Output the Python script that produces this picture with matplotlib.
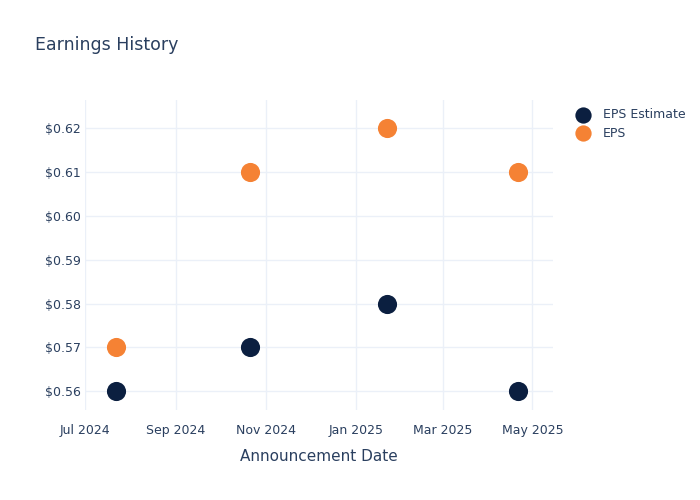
import matplotlib.pyplot as plt
import matplotlib.dates as mdates
import numpy as np
from matplotlib.ticker import FuncFormatter

dates = np.array(["2024-07-22", "2024-10-21", "2025-01-22", "2025-04-21"], dtype="datetime64[D]")
eps_estimate = [0.56, 0.57, 0.58, 0.56]
eps_actual = [0.57, 0.61, 0.62, 0.61]

text_col = "#2a3f5f"
grid_col = "#ebf0f8"

fig = plt.figure(figsize=(7, 5), dpi=100)
ax = fig.add_axes([0.121, 0.18, 0.669, 0.62])

ax.scatter(dates, eps_estimate, s=190, color="#0b1f40", label="EPS Estimate", zorder=3, linewidths=0)
ax.scatter(dates, eps_actual, s=190, color="#f58234", label="EPS", zorder=3, linewidths=0)

ax.set_xlim(np.datetime64("2024-07-01"), np.datetime64("2025-05-15"))
ax.set_ylim(0.5557, 0.6265)
ax.set_yticks([0.56, 0.57, 0.58, 0.59, 0.60, 0.61, 0.62])
ax.yaxis.set_major_formatter(FuncFormatter(lambda v, p: f"${v:.2f}"))
ax.xaxis.set_major_locator(mdates.MonthLocator(bymonth=[1, 3, 5, 7, 9, 11]))
ax.xaxis.set_major_formatter(mdates.DateFormatter("%b %Y"))

ax.grid(True, color=grid_col, linewidth=1)
ax.set_axisbelow(True)
for s in ax.spines.values():
    s.set_visible(False)
ax.tick_params(length=0, colors=text_col, labelsize=9)
ax.tick_params(axis="x", pad=10)
ax.tick_params(axis="y", pad=3)

ax.set_xlabel("Announcement Date", color=text_col, fontsize=11, labelpad=9)
fig.text(0.05, 0.911, "Earnings History", color=text_col, fontsize=12.5, va="center")

leg = ax.legend(loc="upper left", bbox_to_anchor=(1.027, 0.99), frameon=False,
                fontsize=9, labelcolor=text_col, handletextpad=0.6, markerscale=0.85,
                borderaxespad=0, labelspacing=0.45)

fig.savefig("out.png", dpi=100)
